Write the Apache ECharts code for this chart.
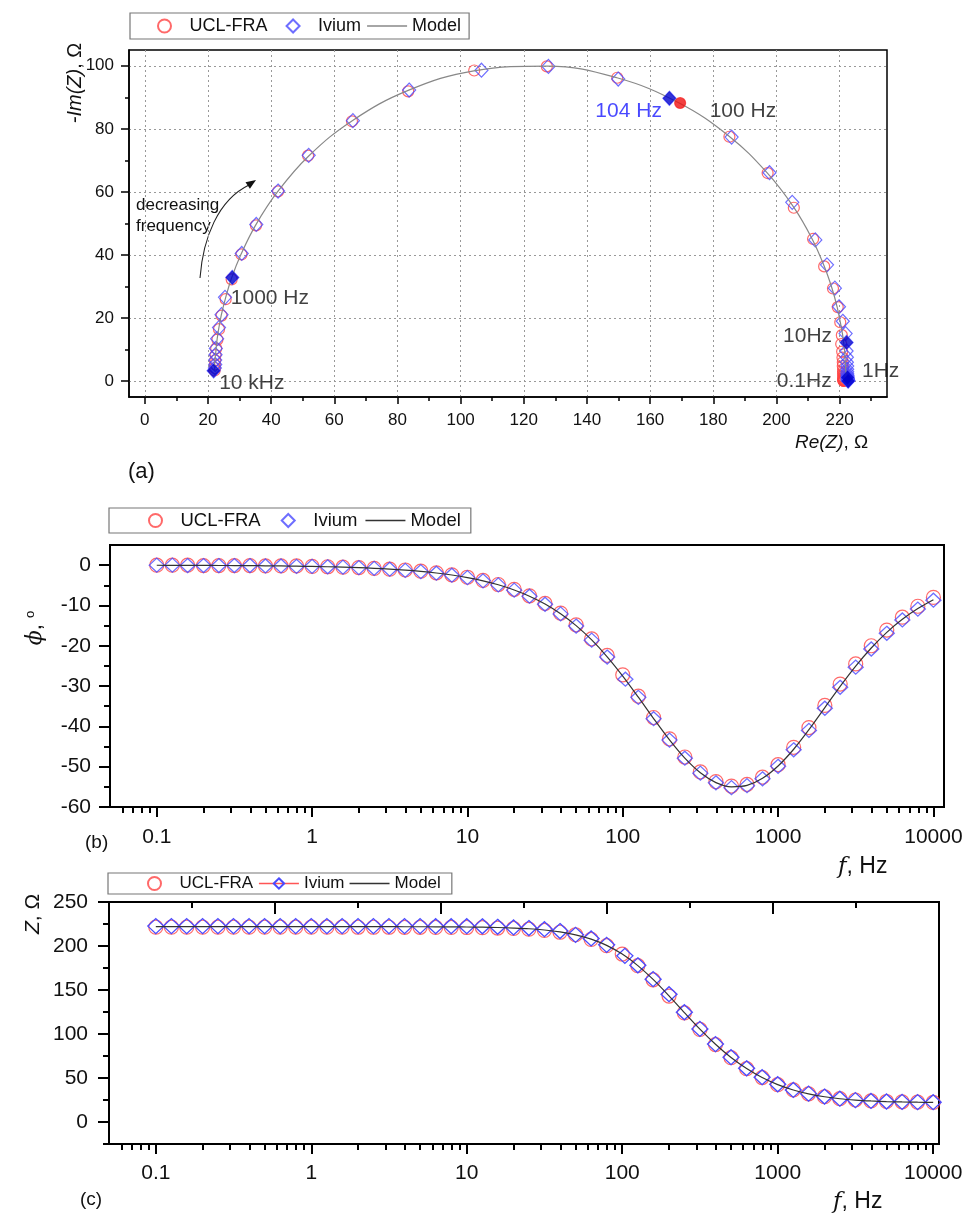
<!DOCTYPE html>
<html>
<head>
<meta charset="utf-8">
<script src="https://cdn.jsdelivr.net/npm/echarts@6/dist/echarts.min.js"></script>
<style>html,body{margin:0;padding:0;background:#fff;}#c{width:968px;height:1218px;}</style>
</head>
<body>
<div id="c"></div>
<script>
// ---------------- DATA ----------------
const freq = [0.1,0.126,0.158,0.2,0.251,0.316,0.398,0.501,0.631,0.794,
  1,1.26,1.58,2,2.51,3.16,3.98,5.01,6.31,7.94,
  10,12.6,15.8,20,25.1,31.6,39.8,50.1,63.1,79.4,
  100,126,158,200,251,316,398,501,631,794,
  1000,1260,1580,2000,2510,3160,3980,5010,6310,7940,10000];
const ivFreq = [0.1,0.126,0.158,0.2,0.251,0.316,0.398,0.501,0.631,0.794,
  1,1.26,1.58,2,2.51,3.16,3.98,5.01,6.31,7.94,
  10,12.6,15.8,20,25.1,31.6,39.8,50.1,63.1,79.4,
  104,126,158,200,251,316,398,501,631,794,
  1000,1260,1580,2000,2510,3160,3980,5010,6310,7940,10000];

// Nyquist (a)
const uclRe = [221.3,221.3,221.2,221.3,221.2,221.3,221.2,221.3,221.2,221.3,
  221.2,221.2,221.2,221.1,221.1,221.1,221.0,221.0,220.9,220.8,
  220.5,220.7,220.2,219.4,217.9,215.1,211.6,205.5,197.2,185.1,
  169.5,149.6,127.3,104.3,83.4,65.6,51.7,42.2,35.2,30.6,
  27.5,25.6,24.3,23.5,23.0,22.6,22.4,22.3,22.2,22.2,22.1];
const uclIm = [0.1,0.2,0.2,0.2,0.3,0.4,0.5,0.6,0.8,1.0,
  1.2,1.5,1.9,2.4,3.0,3.8,4.8,6.0,7.5,9.4,
  11.8,14.6,18.7,23.5,29.4,36.4,45.1,55.0,66.0,77.5,
  88.2,96.2,99.8,98.5,91.9,82.4,71.5,60.2,49.4,40.2,
  32.3,26.0,20.8,16.5,13.2,10.4,8.3,6.6,5.3,4.2,3.4];
const ivRe = [222.7,222.7,222.7,222.6,222.7,222.6,222.6,222.6,222.6,222.5,
  222.5,222.5,222.5,222.4,222.4,222.4,222.4,222.3,222.3,222.2,
  222.2,221.9,221.0,219.8,218.5,216.0,212.3,205.0,197.8,185.8,
  166.1,149.9,127.8,106.6,83.7,65.9,51.9,42.2,35.3,30.7,
  27.7,25.4,24.3,23.5,22.9,22.5,22.4,22.3,22.3,22.2,21.8];
const ivIm = [0.1,0.2,0.2,0.3,0.3,0.4,0.5,0.6,0.8,1.0,
  1.2,1.5,1.9,2.4,3.0,3.8,4.8,6.0,7.6,9.6,
  12.3,15.1,19.0,23.6,29.5,36.9,44.8,56.7,66.1,77.4,
  89.7,95.8,99.8,98.6,92.3,82.6,71.6,60.3,49.7,40.5,
  32.9,26.6,21.1,17.0,13.5,10.4,8.4,6.7,5.3,4.2,3.3];
const modelRe = [222.0,222.0,222.0,222.0,222.0,222.0,222.0,222.0,222.0,222.0,
  222.0,222.0,222.0,222.0,222.0,221.9,221.9,221.8,221.7,221.6,
  221.3,220.9,220.2,219.2,217.6,215.1,211.3,205.5,197.0,185.1,
  169.2,149.5,127.5,104.2,83.4,65.7,51.9,42.0,35.1,30.5,
  27.4,25.5,24.2,23.4,22.9,22.6,22.4,22.2,22.1,22.1,22.1];
const modelIm = [0.12,0.15,0.19,0.24,0.30,0.38,0.48,0.60,0.76,0.95,
  1.20,1.51,1.89,2.40,3.01,3.78,4.76,5.99,7.55,9.49,
  11.9,15.0,18.8,23.6,29.4,36.5,45.1,55.1,66.1,77.6,
  88.2,96.2,99.9,98.4,92.2,82.6,71.4,60.0,49.5,40.3,
  32.5,26.1,20.9,16.6,13.3,10.5,8.38,6.66,5.29,4.21,3.34];

// highlighted points of (a)
const hlNames = ['10 kHz','1000 Hz','104 Hz','100 Hz','10Hz','0.1Hz','1Hz'];
const hlRe    = [21.8, 27.7, 166.1, 169.5, 222.2, 222.7, 222.5];
const hlIm    = [3.3, 32.9, 89.7, 88.2, 12.3, 0.1, 1.2];
const hlSource = ['Ivium','Ivium','Ivium','UCL-FRA','Ivium','Ivium','Ivium'];

// Phase (b)
const uclPhase = [0,0,0,-0.1,-0.1,-0.1,-0.1,-0.2,-0.2,-0.2,
  -0.3,-0.4,-0.5,-0.6,-0.8,-1.0,-1.2,-1.5,-1.9,-2.4,
  -3.0,-3.8,-4.8,-6.0,-7.6,-9.5,-11.9,-14.8,-18.3,-22.4,
  -27.2,-32.5,-37.8,-43.1,-47.6,-51.3,-53.7,-54.8,-54.4,-52.6,
  -49.5,-45.2,-40.3,-34.8,-29.5,-24.5,-20.0,-16.1,-12.9,-10.2,-8.0];
const ivPhase = [0,0,-0.1,-0.1,-0.1,-0.1,-0.1,-0.2,-0.2,-0.3,
  -0.3,-0.4,-0.5,-0.6,-0.8,-1.0,-1.3,-1.6,-2.0,-2.5,
  -3.1,-3.9,-4.9,-6.2,-7.7,-9.7,-12.1,-15.1,-18.6,-22.8,
  -28.3,-32.8,-38.1,-43.4,-47.9,-51.6,-54.0,-55.2,-54.7,-53.0,
  -49.9,-45.8,-41.0,-35.5,-30.3,-25.3,-20.8,-16.9,-13.6,-10.9,-8.7];
const modelPhase = [-0.03,-0.04,-0.05,-0.06,-0.08,-0.10,-0.12,-0.16,-0.20,-0.25,
  -0.31,-0.39,-0.49,-0.62,-0.78,-0.98,-1.23,-1.55,-1.95,-2.45,
  -3.09,-3.89,-4.87,-6.15,-7.70,-9.64,-12.05,-15.00,-18.55,-22.73,
  -27.51,-32.76,-38.06,-43.37,-47.89,-51.52,-53.95,-55.00,-54.65,-52.89,
  -49.83,-45.67,-40.82,-35.35,-30.07,-25.04,-20.55,-16.68,-13.44,-10.78,-8.60];

// Modulus (c)
const uclZ = [221.4,221.4,221.4,221.4,221.4,221.4,221.4,221.4,221.4,221.4,
  221.4,221.4,221.4,221.3,221.3,221.3,221.2,221.2,221.1,221.1,
  221.0,220.8,220.4,219.9,219.1,217.7,215.6,212.8,207.5,200.4,
  190.8,177.6,161.6,143.1,123.9,105.2,88.0,73.1,60.6,50.5,
  42.4,36.5,32.0,28.7,26.5,25.0,23.9,23.3,22.9,22.6,22.3];
const ivZ = [222.6,222.6,222.6,222.6,222.6,222.6,222.6,222.6,222.6,222.6,
  222.6,222.6,222.6,222.6,222.6,222.6,222.6,222.6,222.5,222.5,
  222.5,222.4,221.8,221.1,220.4,219.1,217.0,212.7,208.6,201.3,
  188.8,178.1,162.3,145.2,124.7,105.8,88.5,73.6,61.0,50.9,
  42.9,36.4,32.2,28.9,26.5,24.8,23.9,23.3,22.9,22.6,22.5];
const modelZ = [222.0,222.0,222.0,222.0,222.0,222.0,222.0,222.0,222.0,222.0,
  222.0,222.0,222.0,222.0,222.0,222.0,221.9,221.9,221.8,221.8,
  221.6,221.4,221.0,220.4,219.6,218.2,216.0,212.7,207.8,200.7,
  190.8,177.7,162.0,143.3,124.3,105.5,88.3,73.2,60.7,50.5,
  42.5,36.4,32.0,28.7,26.4,24.9,23.9,23.2,22.8,22.5,22.3];

// ticks
const reTicks = [0,20,40,60,80,100,120,140,160,180,200,220];
const reMinor = [10,30,50,70,90,110,130,150,170,190,210,230];
const imTicks = [0,20,40,60,80,100];
const imMinor = [10,30,50,70,90];
const fTicks = [0.1,1,10,100,1000,10000];
const fTickLabels = ['0.1','1','10','100','1000','10000'];
const fMinor = [0.06,0.07,0.08,0.09,
  0.2,0.3,0.4,0.5,0.6,0.7,0.8,0.9,
  2,3,4,5,6,7,8,9,
  20,30,40,50,60,70,80,90,
  200,300,400,500,600,700,800,900,
  2000,3000,4000,5000,6000,7000,8000,9000];
const phTicks = [-60,-50,-40,-30,-20,-10,0];
const phMinor = [-55,-45,-35,-25,-15,-5];
const zTicks = [0,50,100,150,200,250];
const zMinor = [-25,25,75,125,175,225];

// ---------------- STYLE ----------------
const FONT = 'Liberation Sans, Arial, sans-serif';
const RED = '#ff4444', BLUE = '#4a4aff';
// diamond centred in a 40-wide icon box (the leading moves widen the box)
const DIAMOND = 'path://M0,7 M40,7 M20,0 L27,7 L20,14 L13,7 Z';
const LINEICON = 'path://M0,0 H40 V1.3 H0 Z';
const chart = echarts.init(document.getElementById('c'), null, {renderer:'canvas'});

function fLabel(v){ const i = Math.round(Math.log10(v)) + 1; return fTickLabels[i] || ''; }

function mainAxis(o){
  return Object.assign({
    axisLine:{show:true,onZero:false,lineStyle:{color:'#000',width:2}},
    axisTick:{show:true,length:10,lineStyle:{color:'#000',width:2}},
    axisLabel:{color:'#111',fontFamily:FONT,fontSize:21},
    splitLine:{show:false}
  }, o);
}
function minorAxis(o){
  return Object.assign({
    axisLine:{show:false,onZero:false},
    axisLabel:{show:false},
    splitLine:{show:false}
  }, o);
}

const legendBase = {
  orient:'horizontal', itemWidth:40, itemHeight:13, itemGap:7,
  borderColor:'#777', borderWidth:1.2, borderRadius:0, backgroundColor:'#fff',
  selectedMode:false, formatter:n => n.split('|')[0],
  textStyle:{fontFamily:FONT,fontSize:18,color:'#111'}
};

const hlPos = {'10 kHz':['right',[-6,12]],'1000 Hz':['right',[-13,21]],'104 Hz':['left',[4,13]],
  '100 Hz':['right',[19,8]],'10Hz':['left',[-3,-6]],'0.1Hz':['left',[-5,0]],'1Hz':['right',[3,-6]]};
const hlData = hlNames.map((n,i) => {
  const isUcl = hlSource[i] === 'UCL-FRA';
  const pos = hlPos[n];
  return {
    value:[hlRe[i], hlIm[i]],
    symbol: isUcl ? 'circle' : 'diamond',
    symbolSize: isUcl ? 11 : [13,14],
    itemStyle:{color: isUcl ? '#ee1111' : '#0000cc', borderWidth:0},
    label:{show:true, formatter:n, position:pos[0], offset:pos[1], distance:5,
      fontFamily:FONT, fontSize:21, color: n === '104 Hz' ? '#1a1aff' : '#111'}
  };
});

const option = {
  backgroundColor:'#fff',
  animation:false,
  grid:[
    {left:129, top:50, width:758, height:347, show:true, borderColor:'#000', borderWidth:1.5, backgroundColor:'transparent'},
    {left:110, top:545, width:834, height:262, show:true, borderColor:'#000', borderWidth:2, backgroundColor:'transparent'},
    {left:109, top:902, width:830, height:242, show:true, borderColor:'#000', borderWidth:2, backgroundColor:'transparent'}
  ],
  legend:[
    Object.assign({}, legendBase, {left:130, top:13, padding:[4,8,4,27], itemGap:6,
      data:['UCL-FRA|a',{name:'Ivium|a',icon:DIAMOND},{name:'Model|a',icon:LINEICON}]}),
    Object.assign({}, legendBase, {left:109, top:508, padding:[3,10,3,39], itemGap:8,
      textStyle:{fontFamily:FONT,fontSize:18.5,color:'#111'},
      data:['UCL-FRA|b',{name:'Ivium|b',icon:DIAMOND},{name:'Model|b',icon:LINEICON}]}),
    Object.assign({}, legendBase, {left:108, top:873, padding:[2,11,2,39], itemGap:5,
      textStyle:{fontFamily:FONT,fontSize:17,color:'#111'},
      data:['UCL-FRA|c',{name:'Ivium|c', lineStyle:{color:'#ff5555', width:1.5}},{name:'Model|c',icon:LINEICON}]})
  ],
  xAxis:[
    // (a)
    mainAxis({type:'value', gridIndex:0, min:-5, max:235, position:'bottom',
      axisLine:{show:true,onZero:false,lineStyle:{color:'#000',width:1.5}},
      axisTick:{show:true,length:7,customValues:reTicks,lineStyle:{color:'#000',width:1.5}},
      axisLabel:{color:'#111',fontFamily:FONT,fontSize:17,margin:15,customValues:reTicks},
      splitLine:{show:true,lineStyle:{color:'#999',type:[2,3],width:1}}}),
    minorAxis({type:'value', gridIndex:0, min:-5, max:235, position:'bottom',
      axisTick:{show:true,length:4,customValues:reMinor,lineStyle:{color:'#000',width:1.5}}}),
    // (b)
    mainAxis({type:'log', gridIndex:1, min:0.05, max:11700, position:'bottom',
      axisTick:{show:true,length:10,customValues:fTicks,lineStyle:{color:'#000',width:2}},
      axisLabel:{color:'#111',fontFamily:FONT,fontSize:21,margin:20,customValues:fTicks,formatter:fLabel}}),
    minorAxis({type:'log', gridIndex:1, min:0.05, max:11700, position:'bottom',
      axisTick:{show:true,length:6,customValues:fMinor,lineStyle:{color:'#000',width:2}}}),
    // (c)
    mainAxis({type:'log', gridIndex:2, min:0.05, max:10900, position:'bottom',
      axisTick:{show:true,length:10,customValues:fTicks,lineStyle:{color:'#000',width:2}},
      axisLabel:{color:'#111',fontFamily:FONT,fontSize:21,margin:19,customValues:fTicks,formatter:fLabel}}),
    minorAxis({type:'log', gridIndex:2, min:0.05, max:10900, position:'bottom',
      axisTick:{show:true,length:6,customValues:fMinor,lineStyle:{color:'#000',width:2}}}),
    // (c) top decorative axis
    {type:'value', gridIndex:2, min:0, max:10, interval:2, position:'top',
      axisLine:{show:false,onZero:false}, axisLabel:{show:false}, splitLine:{show:false},
      axisTick:{show:true,inside:true,length:12,lineStyle:{color:'#000',width:2}},
      minorTick:{show:true,splitNumber:2,length:6,lineStyle:{color:'#000',width:2}}}
  ],
  yAxis:[
    mainAxis({type:'value', gridIndex:0, min:-5, max:105, position:'left',
      axisLine:{show:true,onZero:false,lineStyle:{color:'#000',width:1.5}},
      axisTick:{show:true,length:8,customValues:imTicks,lineStyle:{color:'#000',width:1.5}},
      axisLabel:{color:'#111',fontFamily:FONT,fontSize:17,margin:15,customValues:imTicks},
      splitLine:{show:true,lineStyle:{color:'#999',type:[2,3],width:1}}}),
    minorAxis({type:'value', gridIndex:0, min:-5, max:105, position:'left',
      axisTick:{show:true,length:4,customValues:imMinor,lineStyle:{color:'#000',width:1.5}}}),
    mainAxis({type:'value', gridIndex:1, min:-60, max:5, position:'left',
      axisTick:{show:true,length:11,customValues:phTicks,lineStyle:{color:'#000',width:2}},
      axisLabel:{color:'#111',fontFamily:FONT,fontSize:21,margin:19,customValues:phTicks}}),
    minorAxis({type:'value', gridIndex:1, min:-60, max:5, position:'left',
      axisTick:{show:true,length:6,customValues:phMinor,lineStyle:{color:'#000',width:2}}}),
    mainAxis({type:'value', gridIndex:2, min:-25, max:250, position:'left',
      axisTick:{show:true,length:11,customValues:zTicks,lineStyle:{color:'#000',width:2}},
      axisLabel:{color:'#111',fontFamily:FONT,fontSize:21,margin:21,customValues:zTicks}}),
    minorAxis({type:'value', gridIndex:2, min:-25, max:250, position:'left',
      axisTick:{show:true,length:6,customValues:zMinor,lineStyle:{color:'#000',width:2}}})
  ],
  series:[
    // ---- (a) Nyquist
    {name:'UCL-FRA|a', type:'scatter', xAxisIndex:0, yAxisIndex:0, symbol:'circle', symbolSize:11,
      itemStyle:{color:'transparent', borderColor:RED, borderWidth:1.2},
      data: uclRe.map((v,i)=>[v, uclIm[i]]), z:2},
    {name:'Ivium|a', type:'scatter', xAxisIndex:0, yAxisIndex:0, symbol:'diamond', symbolSize:[13,14],
      itemStyle:{color:'transparent', borderColor:BLUE, borderWidth:1.2},
      data: ivRe.map((v,i)=>[v, ivIm[i]]), z:3},
    {name:'Model|a', type:'line', xAxisIndex:0, yAxisIndex:0, showSymbol:false, symbol:'none', smooth:0.4,
      lineStyle:{color:'#888', width:1.2}, itemStyle:{color:'#888'},
      data: modelRe.map((v,i)=>[v, modelIm[i]]), z:4},
    {name:'highlight', type:'scatter', xAxisIndex:0, yAxisIndex:0, data: hlData, z:5},
    // ---- (b) phase
    {name:'UCL-FRA|b', type:'scatter', xAxisIndex:2, yAxisIndex:2, symbol:'circle', symbolSize:14,
      itemStyle:{color:'transparent', borderColor:RED, borderWidth:1.2},
      data: freq.map((f,i)=>[f, uclPhase[i]]), z:2},
    {name:'Ivium|b', type:'scatter', xAxisIndex:2, yAxisIndex:2, symbol:'diamond', symbolSize:[15,14],
      itemStyle:{color:'transparent', borderColor:BLUE, borderWidth:1.3},
      data: ivFreq.map((f,i)=>[f, ivPhase[i]]), z:3},
    {name:'Model|b', type:'line', xAxisIndex:2, yAxisIndex:2, showSymbol:false, symbol:'none', smooth:0.3,
      lineStyle:{color:'#333', width:1.2}, itemStyle:{color:'#333'},
      data: freq.map((f,i)=>[f, modelPhase[i]]), z:4},
    // ---- (c) modulus
    {name:'UCL-FRA|c', type:'scatter', xAxisIndex:4, yAxisIndex:4, symbol:'circle', symbolSize:14,
      itemStyle:{color:'transparent', borderColor:RED, borderWidth:1.2},
      data: freq.map((f,i)=>[f, uclZ[i]]), z:2},
    {name:'Ivium|c', type:'line', xAxisIndex:4, yAxisIndex:4, symbol:'diamond', symbolSize:[16,15],
      showSymbol:true, showAllSymbol:true,
      lineStyle:{width:0, color:'#ff5555'},
      itemStyle:{color:'transparent', borderColor:BLUE, borderWidth:1.3},
      data: ivFreq.map((f,i)=>[f, ivZ[i]]), z:3},
    {name:'Model|c', type:'line', xAxisIndex:4, yAxisIndex:4, showSymbol:false, symbol:'none', smooth:0.3,
      lineStyle:{color:'#333', width:1.2}, itemStyle:{color:'#333'},
      data: freq.map((f,i)=>[f, modelZ[i]]), z:4}
  ],
  graphic:[
    // axis titles (a)
    {type:'text', x:75, y:83, rotation:Math.PI/2, style:{
      text:'{i|-Im(Z)}{n|, Ω}', align:'center', verticalAlign:'middle',
      rich:{i:{fontFamily:FONT,fontSize:20,fontStyle:'italic',fill:'#111'}, n:{fontFamily:FONT,fontSize:20,fill:'#111'}}}},
    {type:'text', x:795, y:443, style:{
      text:'{i|Re(Z)}{n|, Ω}', align:'left', verticalAlign:'middle',
      rich:{i:{fontFamily:FONT,fontSize:19,fontStyle:'italic',fill:'#111'}, n:{fontFamily:FONT,fontSize:19,fill:'#111'}}}},
    {type:'text', x:128, y:472, style:{text:'(a)', fontFamily:FONT, fontSize:22, fill:'#111', verticalAlign:'middle'}},
    {type:'text', x:136, y:205, style:{text:'decreasing', fontFamily:FONT, fontSize:17, fill:'#111', verticalAlign:'middle'}},
    {type:'text', x:136, y:226, style:{text:'frequency', fontFamily:FONT, fontSize:17, fill:'#111', verticalAlign:'middle'}},
    {type:'bezierCurve', shape:{x1:200,y1:278,x2:249,y2:185,cpx1:203,cpy1:238,cpx2:218,cpy2:200},
      style:{stroke:'#222', lineWidth:1.1, fill:null}},
    {type:'polygon', shape:{points:[[256,180],[245.5,182.2],[249.9,188.8]]}, style:{fill:'#111'}},
    // (b)
    {type:'text', x:35, y:628, rotation:Math.PI/2, style:{
      text:'{p|ϕ}{n|, }{s|o}', align:'center', verticalAlign:'middle',
      rich:{p:{fontFamily:'DejaVu Serif',fontSize:22,fontStyle:'italic',fill:'#111'},
            n:{fontFamily:FONT,fontSize:22,fill:'#111'},
            s:{fontFamily:FONT,fontSize:13,fill:'#111',verticalAlign:'top'}}}},
    {type:'text', x:838, y:867, style:{
      text:'{i|f}{n|, Hz}', align:'left', verticalAlign:'middle',
      rich:{i:{fontFamily:'DejaVu Serif',fontSize:23,fontStyle:'italic',fill:'#111'}, n:{fontFamily:FONT,fontSize:23,fill:'#111'}}}},
    {type:'text', x:85, y:843, style:{text:'(b)', fontFamily:FONT, fontSize:19, fill:'#111', verticalAlign:'middle'}},
    // (c)
    {type:'text', x:33, y:914, rotation:Math.PI/2, style:{
      text:'{i|Z}{n|, Ω}', align:'center', verticalAlign:'middle',
      rich:{i:{fontFamily:FONT,fontSize:21,fontStyle:'italic',fill:'#111'}, n:{fontFamily:FONT,fontSize:21,fill:'#111'}}}},
    {type:'text', x:833, y:1202, style:{
      text:'{i|f}{n|, Hz}', align:'left', verticalAlign:'middle',
      rich:{i:{fontFamily:'DejaVu Serif',fontSize:23,fontStyle:'italic',fill:'#111'}, n:{fontFamily:FONT,fontSize:23,fill:'#111'}}}},
    {type:'text', x:80, y:1200, style:{text:'(c)', fontFamily:FONT, fontSize:19, fill:'#111', verticalAlign:'middle'}}
  ]
};
chart.setOption(option);
</script>
</body>
</html>
